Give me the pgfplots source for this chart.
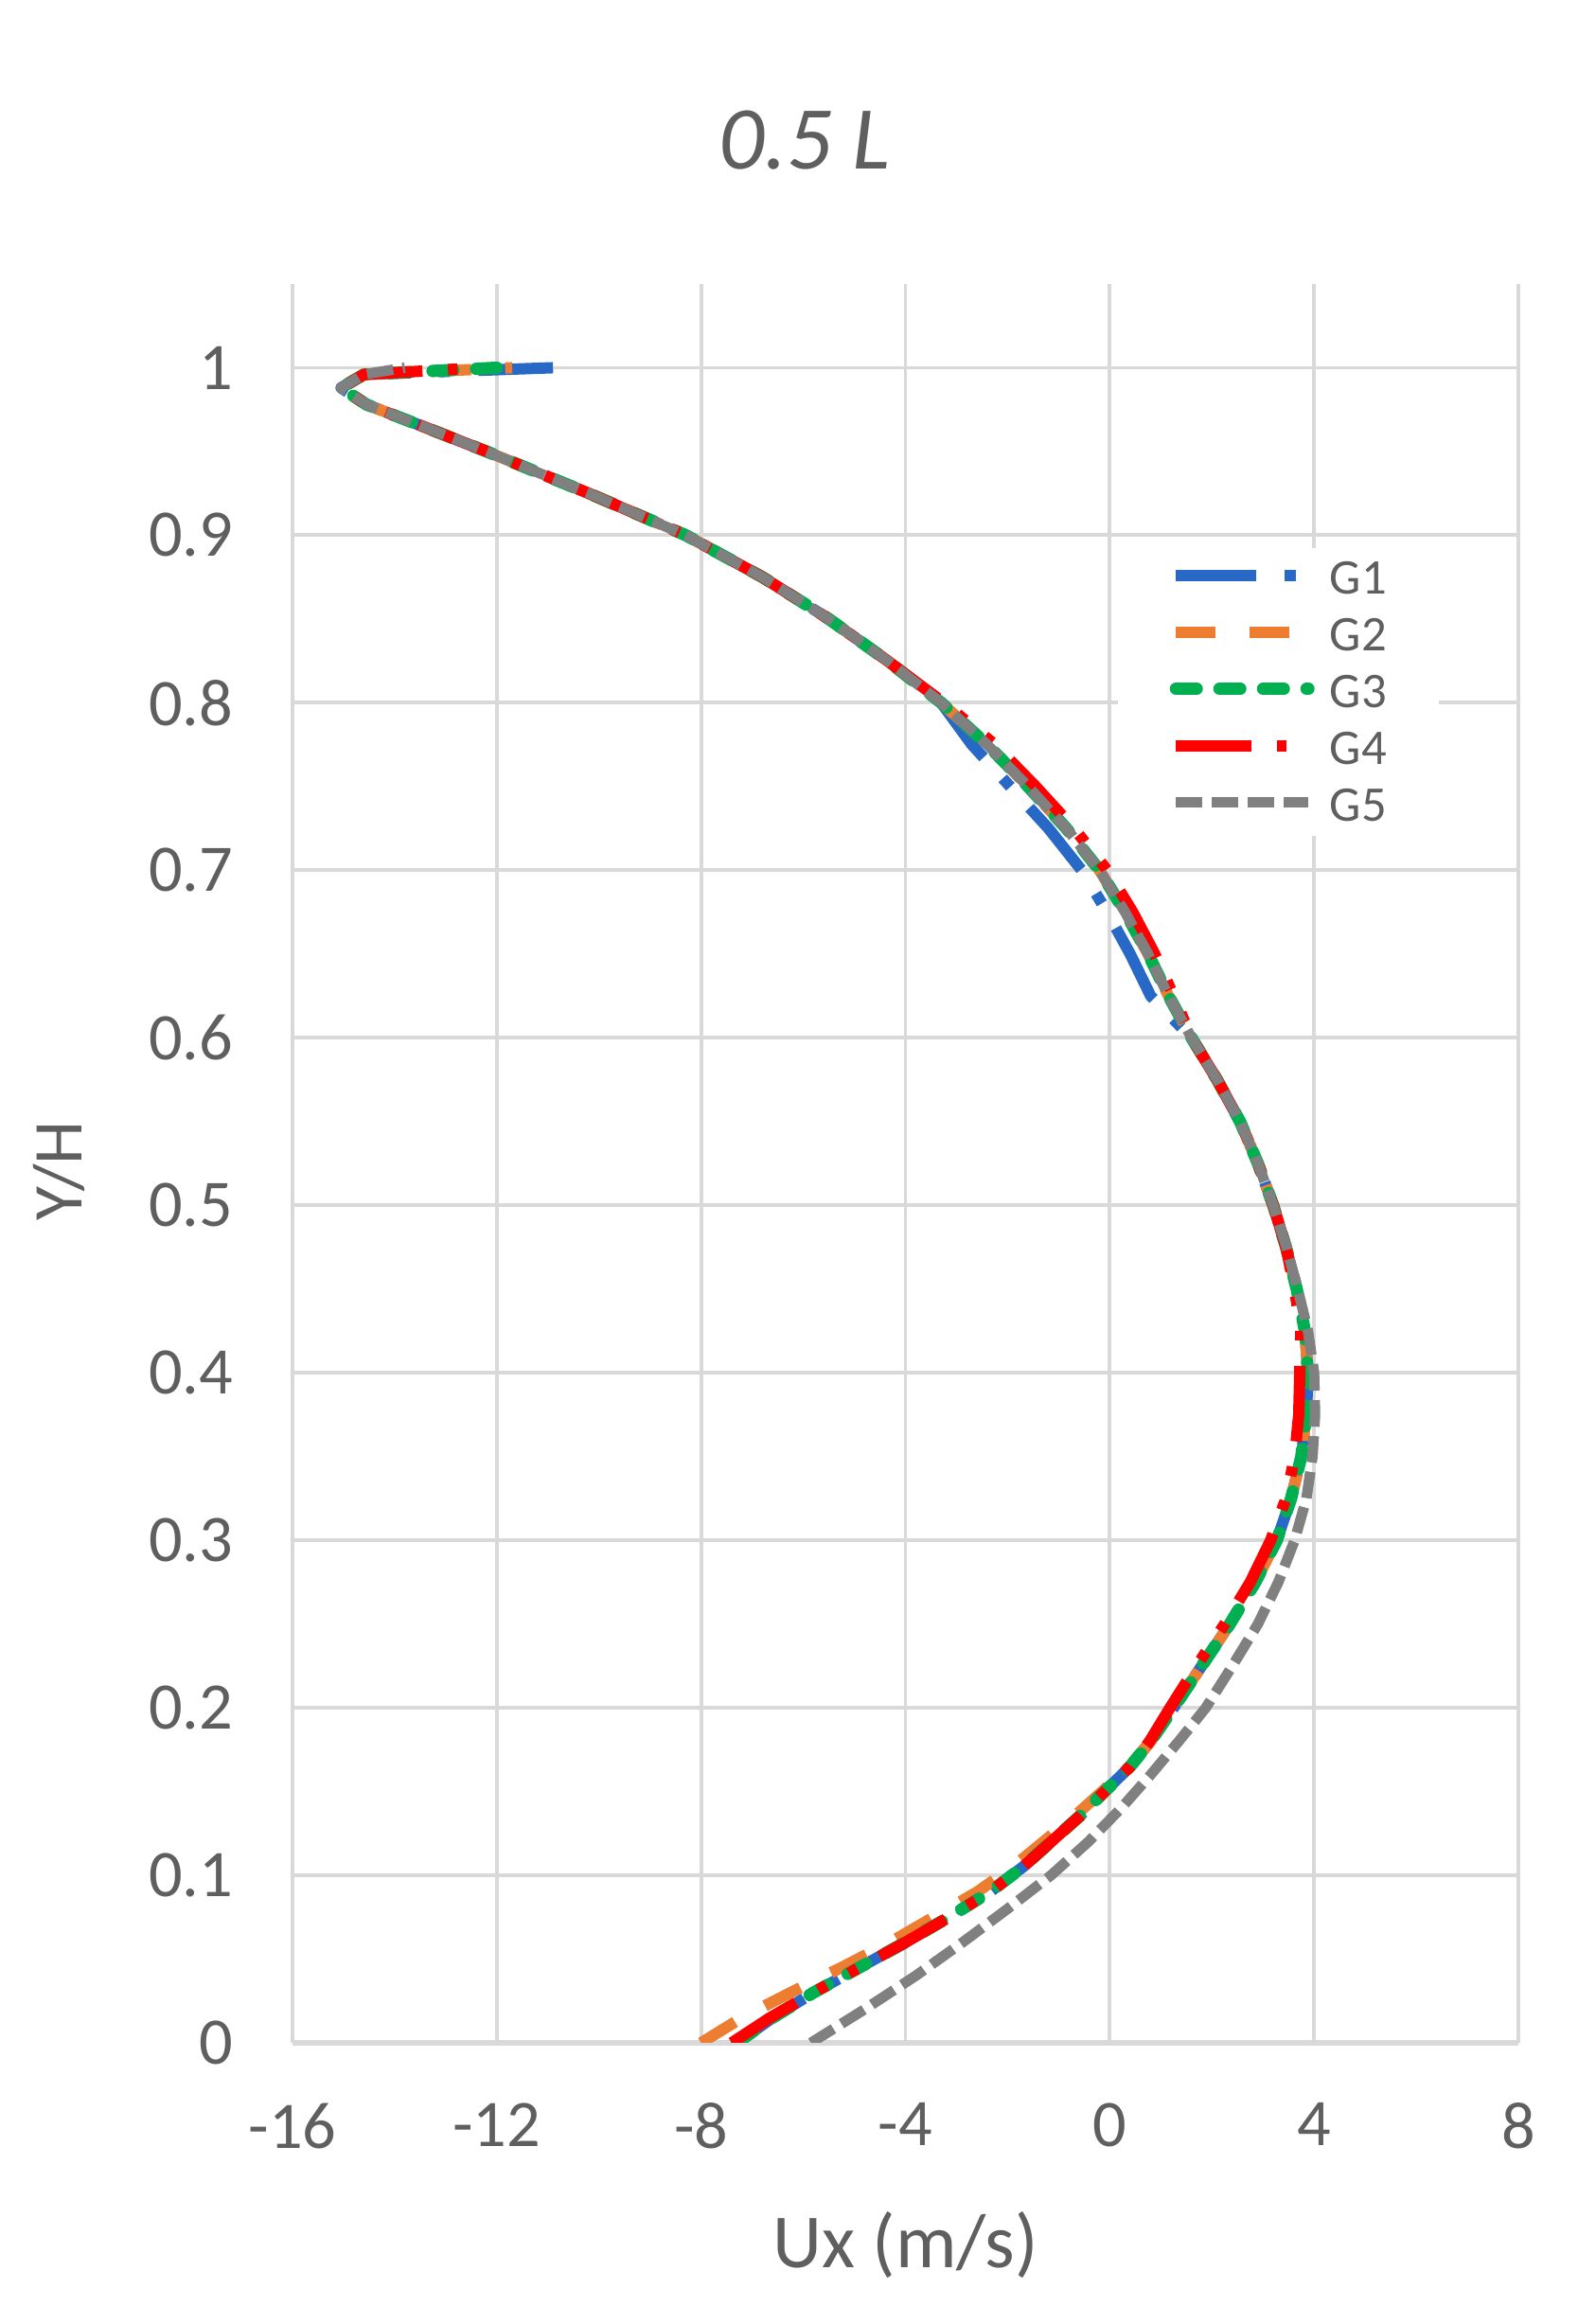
\documentclass[border=0pt]{standalone}
\usepackage{pgfplots}
\pgfplotsset{compat=1.18}
\usepackage{pgfplotstable}
\usepackage{fontspec}
\setmainfont{Carlito}

\definecolor{gblue}{RGB}{40,105,200}
\definecolor{gorange}{RGB}{237,125,49}
\definecolor{ggreen}{RGB}{0,176,80}
\definecolor{gred}{RGB}{255,0,0}
\definecolor{ggray}{RGB}{128,128,128}
\definecolor{gridgray}{RGB}{217,217,217}
\definecolor{textgray}{RGB}{95,95,95}

% Ux (m/s) against Y/H, one table per grid
\pgfplotstableread{
ux yh
-7.30 0.000
-6.60 0.015
-5.80 0.030
-4.90 0.045
-4.00 0.060
-3.15 0.075
-2.35 0.090
-1.70 0.105
-1.15 0.120
-0.60 0.135
-0.10 0.150
0.40 0.165
0.80 0.180
1.25 0.200
1.80 0.225
2.35 0.250
2.85 0.275
3.27 0.300
3.55 0.325
3.75 0.350
3.85 0.375
3.88 0.400
3.82 0.425
3.66 0.450
3.45 0.475
3.20 0.500
2.90 0.525
2.55 0.550
2.10 0.575
1.60 0.600
0.80 0.625
0.40 0.650
-0.05 0.675
-0.55 0.700
-1.20 0.725
-1.95 0.750
-2.70 0.775
-3.30 0.800
-4.35 0.825
-5.50 0.850
-6.80 0.875
-8.30 0.900
-10.20 0.925
-12.20 0.950
-13.45 0.965
-14.55 0.978
-15.05 0.988
-14.60 0.996
-10.90 1.000
}\tGone

\pgfplotstableread{
ux yh
-8.00 0.000
-7.20 0.015
-6.25 0.030
-5.25 0.045
-4.30 0.060
-3.45 0.075
-2.60 0.090
-1.90 0.105
-1.30 0.120
-0.70 0.135
-0.15 0.150
0.38 0.165
0.80 0.180
1.25 0.200
1.80 0.225
2.35 0.250
2.85 0.275
3.27 0.300
3.55 0.325
3.75 0.350
3.85 0.375
3.88 0.400
3.82 0.425
3.66 0.450
3.45 0.475
3.20 0.500
2.90 0.525
2.55 0.550
2.10 0.575
1.60 0.600
1.15 0.625
0.75 0.650
0.30 0.675
-0.20 0.700
-0.85 0.725
-1.60 0.750
-2.40 0.775
-3.30 0.800
-4.35 0.825
-5.50 0.850
-6.80 0.875
-8.30 0.900
-10.20 0.925
-12.20 0.950
-13.45 0.965
-14.55 0.978
-15.05 0.988
-14.60 0.996
-11.70 1.000
}\tGtwo

\pgfplotstableread{
ux yh
-7.30 0.000
-6.60 0.015
-5.80 0.030
-4.90 0.045
-4.00 0.060
-3.15 0.075
-2.35 0.090
-1.70 0.105
-1.15 0.120
-0.60 0.135
-0.10 0.150
0.40 0.165
0.80 0.180
1.25 0.200
1.80 0.225
2.35 0.250
2.85 0.275
3.27 0.300
3.55 0.325
3.75 0.350
3.85 0.375
3.88 0.400
3.82 0.425
3.66 0.450
3.45 0.475
3.20 0.500
2.90 0.525
2.55 0.550
2.10 0.575
1.60 0.600
1.15 0.625
0.75 0.650
0.30 0.675
-0.20 0.700
-0.85 0.725
-1.60 0.750
-2.40 0.775
-3.30 0.800
-4.35 0.825
-5.50 0.850
-6.80 0.875
-8.30 0.900
-10.20 0.925
-12.20 0.950
-13.45 0.965
-14.55 0.978
-15.05 0.988
-14.60 0.996
-12.00 1.000
}\tGthree

\pgfplotstableread{
ux yh
-7.40 0.000
-6.65 0.015
-5.80 0.030
-4.90 0.045
-4.00 0.060
-3.15 0.075
-2.35 0.090
-1.70 0.105
-1.15 0.120
-0.60 0.135
-0.10 0.150
0.40 0.165
0.78 0.180
1.18 0.200
1.70 0.225
2.25 0.250
2.75 0.275
3.15 0.300
3.45 0.325
3.62 0.350
3.70 0.375
3.72 0.400
3.74 0.425
3.62 0.450
3.45 0.475
3.20 0.500
2.90 0.525
2.55 0.550
2.10 0.575
1.60 0.600
1.25 0.625
0.88 0.650
0.45 0.675
-0.05 0.700
-0.70 0.725
-1.45 0.750
-2.25 0.775
-3.25 0.800
-4.35 0.825
-5.50 0.850
-6.80 0.875
-8.30 0.900
-10.20 0.925
-12.20 0.950
-13.45 0.965
-14.55 0.978
-15.05 0.988
-14.60 0.996
-12.30 1.000
}\tGfour

\pgfplotstableread{
ux yh
-5.85 0.000
-4.80 0.020
-3.80 0.040
-2.88 0.060
-2.00 0.080
-1.15 0.100
-0.42 0.120
0.22 0.140
0.80 0.160
1.35 0.180
1.88 0.200
2.40 0.225
2.90 0.250
3.30 0.275
3.62 0.300
3.85 0.325
3.97 0.350
4.02 0.375
4.00 0.400
3.88 0.425
3.68 0.450
3.46 0.475
3.20 0.500
2.90 0.525
2.55 0.550
2.10 0.575
1.60 0.600
1.15 0.625
0.75 0.650
0.30 0.675
-0.20 0.700
-0.85 0.725
-1.60 0.750
-2.40 0.775
-3.30 0.800
-4.35 0.825
-5.50 0.850
-6.80 0.875
-8.30 0.900
-10.20 0.925
-12.20 0.950
-13.45 0.965
-14.55 0.978
-15.05 0.988
-14.60 0.996
-13.80 1.000
}\tGfive

\begin{document}
\begin{tikzpicture}
\path[use as bounding box] (0,0) rectangle (16.86cm,24.36cm);
\begin{axis}[
    at={(3.09cm,2.78cm)}, anchor=south west,
    scale only axis,
    width=12.95cm, height=18.58cm,
    xmin=-16, xmax=8,
    ymin=0, ymax=1.05,
    xtick={-16,-12,-8,-4,0,4,8},
    xticklabels={-16,-12,-8,-4,0,4,8},
    ytick={0,0.1,0.2,0.3,0.4,0.5,0.6,0.7,0.8,0.9,1},
    yticklabels={0,0.1,0.2,0.3,0.4,0.5,0.6,0.7,0.8,0.9,1},
    major tick length=0pt,
    tick style={draw=none},
    grid=major,
    major grid style={draw=gridgray, line width=1.1pt},
    axis x line*=bottom,
    axis y line*=left,
    x axis line style={-, draw=gridgray, line width=1.6pt},
    y axis line style={draw=none},
    ticklabel style={font=\fontsize{20}{24}\selectfont, text=textgray},
    xticklabel style={anchor=north, inner sep=0pt, yshift=-0.63cm},
    yticklabel style={anchor=east, inner sep=0pt, xshift=-0.62cm},
    title={0.5 L},
    title style={at={(axis description cs:0.4178,1.0705)}, anchor=center,
        font=\fontsize{27}{32}\selectfont\itshape, text=textgray},
    xlabel={Ux (m/s)},
    xlabel style={at={(axis description cs:0.5,-0.1147)}, anchor=center,
        font=\fontsize{23}{28}\selectfont, text=textgray},
    ylabel={Y/H},
    ylabel style={at={(axis description cs:-0.1907,0.4957)}, anchor=center,
        font=\fontsize{21}{25}\selectfont, text=textgray},
    legend style={at={(axis description cs:0.6726,0.8504)}, anchor=north west,
        draw=none, fill=white, inner xsep=0.55cm, inner ysep=0.02cm,
        row sep=0pt, column sep=0.16cm,
        font=\fontsize{15}{18}\selectfont, text=textgray,
        nodes={inner sep=0pt, text height=0.465cm, text depth=0.135cm, anchor=west}},
    legend cell align=left,
    legend image code/.code={\draw[#1] (0cm,0.03cm) -- (1.4cm,0.03cm);},
    every axis plot/.append style={line join=round},
]
\addplot[gblue, line width=0.12cm, dash pattern=on 0.85cm off 0.3cm on 0.12cm off 0.3cm] table[x=ux, y=yh] {\tGone};
\addlegendentry{G1}
\addplot[gorange, line width=0.12cm, dash pattern=on 0.42cm off 0.36cm] table[x=ux, y=yh] {\tGtwo};
\addlegendentry{G2}
\addplot[ggreen, line width=0.13cm, line cap=round, dash pattern=on 0.22cm off 0.24cm] table[x=ux, y=yh] {\tGthree};
\addlegendentry{G3}
\addplot[gred, line width=0.12cm, dash pattern=on 0.8cm off 0.27cm on 0.1cm off 0.27cm on 0.1cm off 0.27cm] table[x=ux, y=yh] {\tGfour};
\addlegendentry{G4}
\addplot[ggray, line width=0.11cm, dash pattern=on 0.28cm off 0.1cm] table[x=ux, y=yh] {\tGfive};
\addlegendentry{G5}
\end{axis}
\end{tikzpicture}
\end{document}
